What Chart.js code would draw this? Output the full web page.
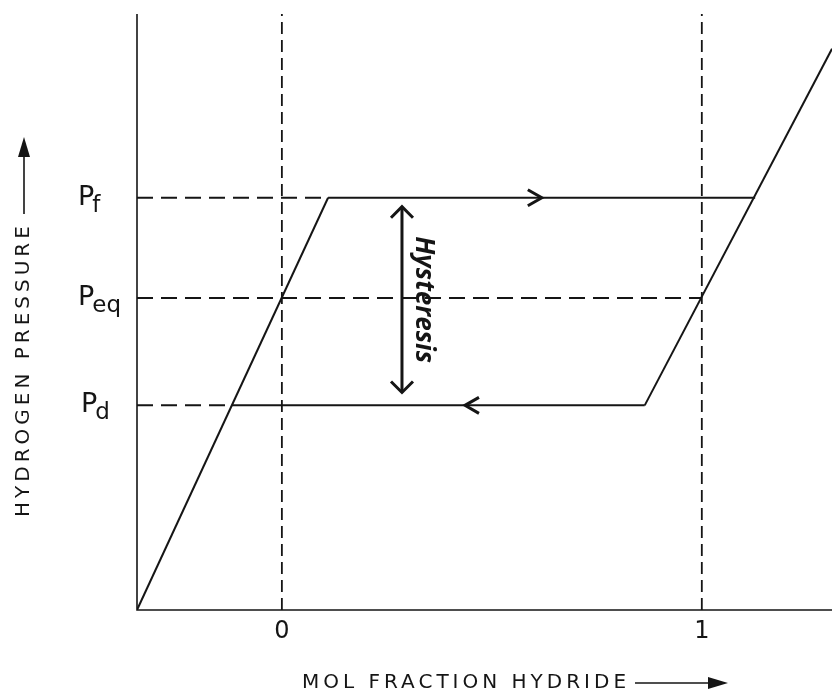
<!DOCTYPE html>
<html>
<head>
<meta charset="utf-8">
<script src="https://cdn.jsdelivr.net/npm/chart.js@4"></script>
<style>
  body { margin: 0; background: #fff; }
  canvas { display: block; }
</style>
</head>
<body>
<canvas id="isotherm" width="832" height="695"></canvas>
<script>
// pressure levels (arbitrary units, 0 at the x axis)
const pF = 4.15;
const pEq = 3.14;
const pD = 2.06;

// axis ranges
const xMin = -0.345, xMax = 1.31;
const yMin = 0, yMax = 6;

// isotherm branches
const leftX = [-0.345, 0.11];
const leftP = [0, pF];
const rightX = [0.864, 1.31];
const rightP = [pD, 5.65];
const absorbX = [0.11, 1.127];     // plateau at pF
const desorbX = [-0.119, 0.864];   // plateau at pD

// guide lines
const guideEnds = [0.11, 1.0, -0.119]; // where the dashed pF / pEq / pD lines stop
const guideLevels = [pF, pEq, pD];
const phaseX = [0, 1];                 // dashed verticals

// tick labels
const xTicks = [0, 1];
const pLabels = [['P', 'f'], ['P', 'eq'], ['P', 'd']];

// hysteresis arrow and flow arrows
const hystX = 0.286;
const hystP = [4.06, 2.19];
const flowArrows = [{ x: 0.619, p: pF, dir: 1 }, { x: 0.436, p: pD, dir: -1 }];

const ink = '#151515';

function seg(xs, ps) {
    return xs.map((x, i) => ({ x: x, y: ps[i] }));
}

const datasets = [
    { data: seg(leftX, leftP), borderWidth: 2 },
    { data: seg(rightX, rightP), borderWidth: 2 },
    { data: seg(absorbX, [pF, pF]), borderWidth: 2 },
    { data: seg(desorbX, [pD, pD]), borderWidth: 2 },
    { data: seg([hystX, hystX], hystP), borderWidth: 3 }
];
guideLevels.forEach((p, i) => {
    datasets.push({ data: seg([xMin, guideEnds[i]], [p, p]), borderWidth: 2, borderDash: [16, 8] });
});
phaseX.forEach(x => {
    datasets.push({ data: seg([x, x], [yMin, yMax]), borderWidth: 1.8, borderDash: [12, 6] });
});
datasets.forEach(d => {
    d.showLine = true;
    d.pointRadius = 0;
    d.borderColor = ink;
    d.fill = false;
});

function chevron(ctx, x, y, ang, len, half, width) {
    ctx.save();
    ctx.translate(x, y);
    ctx.rotate(ang);
    ctx.beginPath();
    ctx.moveTo(-len, -half);
    ctx.lineTo(0, 0);
    ctx.lineTo(-len, half);
    ctx.lineWidth = width;
    ctx.strokeStyle = ink;
    ctx.lineJoin = 'miter';
    ctx.stroke();
    ctx.restore();
}

function solidArrow(ctx, x1, y1, x2, y2) {
    const ang = Math.atan2(y2 - y1, x2 - x1);
    ctx.save();
    ctx.strokeStyle = ink;
    ctx.fillStyle = ink;
    ctx.lineWidth = 1.6;
    ctx.beginPath();
    ctx.moveTo(x1, y1);
    ctx.lineTo(x2 - 12 * Math.cos(ang), y2 - 12 * Math.sin(ang));
    ctx.stroke();
    ctx.translate(x2, y2);
    ctx.rotate(ang);
    ctx.beginPath();
    ctx.moveTo(0, 0);
    ctx.lineTo(-20, -6);
    ctx.lineTo(-20, 6);
    ctx.closePath();
    ctx.fill();
    ctx.restore();
}

const decor = {
    id: 'decor',
    afterDatasetsDraw(chart) {
        const ctx = chart.ctx;
        const xs = chart.scales.x, ys = chart.scales.y;
        const a = chart.chartArea;
        ctx.save();

        // axes
        ctx.strokeStyle = ink;
        ctx.lineWidth = 1.6;
        ctx.beginPath();
        ctx.moveTo(a.left, a.top);
        ctx.lineTo(a.left, a.bottom);
        ctx.lineTo(a.right, a.bottom);
        ctx.stroke();

        // flow arrows on the plateaus
        flowArrows.forEach(f => {
            chevron(ctx, xs.getPixelForValue(f.x), ys.getPixelForValue(f.p), f.dir > 0 ? 0 : Math.PI, 14, 8, 3);
        });

        // hysteresis double arrow heads
        const hx = xs.getPixelForValue(hystX);
        chevron(ctx, hx, ys.getPixelForValue(hystP[0]), -Math.PI / 2, 11, 11, 3);
        chevron(ctx, hx, ys.getPixelForValue(hystP[1]), Math.PI / 2, 11, 11, 3);

        ctx.fillStyle = ink;

        // hysteresis text
        ctx.save();
        ctx.translate(hx + 21, ys.getPixelForValue((hystP[0] + hystP[1]) / 2));
        ctx.rotate(Math.PI / 2);
        ctx.font = 'italic bold 26px "Open Sans"';
        ctx.textAlign = 'center';
        ctx.textBaseline = 'middle';
        ctx.fillText('Hysteresis', 0, 0);
        ctx.restore();

        // x tick labels
        ctx.font = '24px "DejaVu Sans"';
        ctx.textAlign = 'center';
        ctx.textBaseline = 'top';
        xTicks.forEach(v => {
            ctx.fillText(String(v), xs.getPixelForValue(v), a.bottom + 10);
        });

        // pressure labels with subscripts
        guideLevels.forEach((p, i) => {
            const y = ys.getPixelForValue(p);
            ctx.textAlign = 'left';
            ctx.textBaseline = 'middle';
            ctx.font = '27px "DejaVu Sans"';
            const x0 = i === 2 ? 81 : 78;
            ctx.fillText(pLabels[i][0], x0, y);
            const w = ctx.measureText(pLabels[i][0]).width;
            ctx.font = '23px "DejaVu Sans"';
            ctx.fillText(pLabels[i][1], x0 + w - 2, y + 8);
        });

        // axis titles
        ctx.font = '20px "DejaVu Sans"';
        ctx.letterSpacing = '4px';
        ctx.textBaseline = 'middle';
        ctx.textAlign = 'left';
        ctx.fillText('MOL FRACTION HYDRIDE', 302, 683);
        solidArrow(ctx, 635, 683, 728, 683);

        ctx.save();
        ctx.translate(24, 517);
        ctx.rotate(-Math.PI / 2);
        ctx.fillText('HYDROGEN PRESSURE', 0, 0);
        ctx.restore();
        ctx.letterSpacing = '0px';
        solidArrow(ctx, 24, 214, 24, 137);

        ctx.restore();
    }
};

new Chart(document.getElementById('isotherm'), {
    type: 'scatter',
    data: { datasets: datasets },
    options: {
        responsive: false,
        animation: false,
        layout: { padding: { left: 137, top: 14, right: 0, bottom: 85 } },
        plugins: { legend: { display: false }, tooltip: { enabled: false } },
        scales: {
            x: { type: 'linear', min: xMin, max: xMax, display: false },
            y: { type: 'linear', min: yMin, max: yMax, display: false }
        }
    },
    plugins: [decor]
});
</script>
</body>
</html>
